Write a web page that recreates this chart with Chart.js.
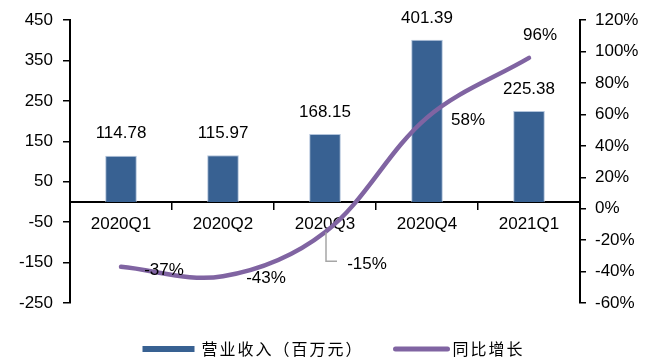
<!DOCTYPE html>
<html>
<head>
<meta charset="utf-8">
<script src="https://cdn.jsdelivr.net/npm/chart.js@4/dist/chart.umd.min.js"></script>
<style>
  html, body { margin: 0; padding: 0; background: #fff; }
  #wrap { width: 659px; height: 363px; }
</style>
</head>
<body>
<div id="wrap"><canvas id="chart"></canvas></div>
<script>
const quarters = ["2020Q1", "2020Q2", "2020Q3", "2020Q4", "2021Q1"];
const revenue = [114.78, 115.97, 168.15, 401.39, 225.38];   // 营业收入（百万元）
const yoyGrowth = [-37, -43, -15, 58, 96];                  // 同比增长 %

const revenueTicks = { min: -250, max: 450, step: 100 };
const growthTicks = { min: -60, max: 120, step: 20 };

const BAR_COLOR = "#386192";
const LINE_COLOR = "#8064A2";
const NUM_FONT = "17px 'Liberation Sans', Arial, sans-serif";
const CJK_FONT = "16px 'Noto Sans CJK SC', sans-serif";

// where each growth label sits relative to its point
const growthLabelOffsets = [[43, 3], [43, 2], [42, 32], [41, 3], [11, -23]];

const valueLabels = {
    id: "valueLabels",
    afterDatasetsDraw(chart) {
        const ctx = chart.ctx;
        ctx.save();
        ctx.font = NUM_FONT;
        ctx.fillStyle = "#000";
        ctx.textAlign = "center";
        ctx.textBaseline = "middle";

        const bars = chart.getDatasetMeta(0).data;
        bars.forEach((bar, i) => {
            ctx.fillText(revenue[i].toFixed(2), bar.x, bar.y - 22);
        });

        const pts = chart.getDatasetMeta(1).data;
        pts.forEach((p, i) => {
            const [dx, dy] = growthLabelOffsets[i];
            if (i === 2) {
                // leader line for the label that sits under the axis labels
                ctx.strokeStyle = "#a6a6a6";
                ctx.lineWidth = 1.5;
                ctx.beginPath();
                ctx.moveTo(p.x + 1, p.y);
                ctx.lineTo(p.x + 1, p.y + dy - 3);
                ctx.lineTo(p.x + 12, p.y + dy - 3);
                ctx.stroke();
            }
            ctx.fillText(yoyGrowth[i] + "%", p.x + dx, p.y + dy);
        });
        ctx.restore();
    }
};

const bottomLegend = {
    id: "bottomLegend",
    afterDraw(chart) {
        const ctx = chart.ctx;
        const items = [
            { text: "营业收入（百万元）", kind: "box" },
            { text: "同比增长", kind: "line" }
        ];
        ctx.save();
        ctx.font = CJK_FONT;
        ctx.letterSpacing = "2px";
        ctx.textBaseline = "middle";
        ctx.fillStyle = "#000";
        const swatch = 54, gap = 5, between = 30;
        const widths = items.map(it => swatch + gap + ctx.measureText(it.text).width);
        const total = widths.reduce((a, b) => a + b, 0) + between;
        let x = chart.width / 2 - total / 2 + 4;
        const y = 349;
        items.forEach((it, i) => {
            if (it.kind === "box") {
                ctx.fillStyle = BAR_COLOR;
                ctx.fillRect(x, y - 3, swatch - 2, 6);
            } else {
                ctx.strokeStyle = LINE_COLOR;
                ctx.lineWidth = 5;
                ctx.lineCap = "round";
                ctx.beginPath();
                ctx.moveTo(x + 2, y);
                ctx.lineTo(x + swatch, y);
                ctx.stroke();
            }
            ctx.fillStyle = "#000";
            ctx.fillText(it.text, x + swatch + gap, y);
            x += widths[i] + between;
        });
        ctx.restore();
    }
};

new Chart(document.getElementById("chart"), {
    type: "bar",
    data: {
        labels: quarters,
        datasets: [
            {
                label: "营业收入（百万元）",
                data: revenue,
                yAxisID: "y",
                backgroundColor: BAR_COLOR,
                borderColor: "rgba(170,190,215,0.9)",
                borderWidth: 1,
                categoryPercentage: 1,
                barPercentage: 0.31,
                order: 2
            },
            {
                type: "line",
                label: "同比增长",
                data: yoyGrowth,
                yAxisID: "y1",
                borderColor: LINE_COLOR,
                borderWidth: 4.5,
                borderCapStyle: "round",
                tension: 0.35,
                pointRadius: 0,
                fill: false,
                order: 1
            }
        ]
    },
    options: {
        responsive: true,
        maintainAspectRatio: false,
        animation: false,
        layout: { padding: { top: 16, bottom: 60, left: 0, right: 0 } },
        plugins: {
            legend: { display: false },
            tooltip: { enabled: false }
        },
        scales: {
            x: {
                position: { y: 0 },
                offset: true,
                grid: {
                    offset: true,
                    drawOnChartArea: false,
                    tickLength: 7,
                    color: "#000",
                    lineWidth: 1.5
                },
                border: { color: "#000", width: 2 },
                ticks: {
                    color: "#000",
                    font: { family: "'Liberation Sans', Arial, sans-serif", size: 17 },
                    padding: 5,
                    maxRotation: 0
                }
            },
            y: {
                position: "left",
                min: revenueTicks.min,
                max: revenueTicks.max,
                afterFit(scale) { scale.width = 70; },
                grid: {
                    drawOnChartArea: false,
                    tickLength: 7,
                    color: "#000",
                    lineWidth: 1.5
                },
                border: { color: "#000", width: 2 },
                ticks: {
                    stepSize: revenueTicks.step,
                    color: "#000",
                    padding: 10,
                    font: { family: "'Liberation Sans', Arial, sans-serif", size: 17 }
                }
            },
            y1: {
                position: "right",
                min: growthTicks.min,
                max: growthTicks.max,
                afterFit(scale) { scale.width = 79; },
                grid: {
                    drawOnChartArea: false,
                    tickLength: 6,
                    color: "#000",
                    lineWidth: 1.5
                },
                border: { color: "#000", width: 2 },
                ticks: {
                    stepSize: growthTicks.step,
                    color: "#000",
                    padding: 9,
                    font: { family: "'Liberation Sans', Arial, sans-serif", size: 17 },
                    callback: v => v + "%"
                }
            }
        }
    },
    plugins: [valueLabels, bottomLegend]
});
</script>
</body>
</html>
